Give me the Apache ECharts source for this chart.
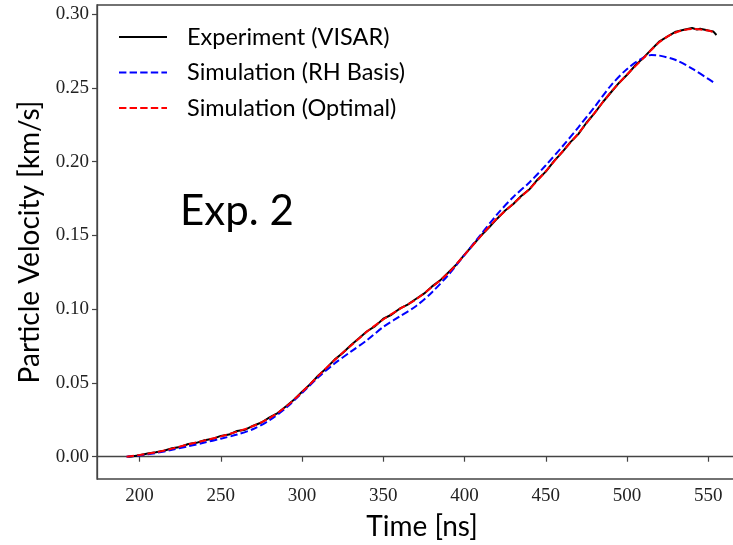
<!DOCTYPE html>
<html>
<head>
<meta charset="utf-8">
<script src="https://cdn.jsdelivr.net/npm/echarts@6/dist/echarts.min.js"></script>
<style>
  html, body { margin: 0; padding: 0; background: #fff; }
  #chart { width: 733px; height: 545px; }
</style>
</head>
<body>
<div id="chart"></div>
<script>
// Particle velocity history, experiment 2: VISAR record vs. two simulations
const seriesNames = ['Experiment (VISAR)', 'Simulation (RH Basis)', 'Simulation (Optimal)'];

// VISAR measurement [time ns, velocity km/s]
const experimentTime = [193,195,200,205,210,215,220,225,230,235,240,245,250,255,260,265,270,275,280,285,290,295,300,305,310,315,320,325,330,335,340,345,350,355,360,365,370,375,380,385,390,395,400,405,410,415,420,425,430,435,440,445,450,455,460,465,470,475,480,485,490,495,500,505,510,515,520,525,530,535,540,543,545,550,553,555];
const experimentVel = [0.0000,0.0002,0.0010,0.0022,0.0031,0.0041,0.0057,0.0066,0.0086,0.0094,0.0112,0.0121,0.0141,0.0150,0.0174,0.0183,0.0210,0.0232,0.0266,0.0296,0.0340,0.0386,0.0440,0.0491,0.0550,0.0600,0.0658,0.0703,0.0755,0.0802,0.0850,0.0885,0.0935,0.0962,0.1003,0.1031,0.1069,0.1105,0.1154,0.1195,0.1248,0.1303,0.1370,0.1433,0.1497,0.1553,0.1613,0.1668,0.1712,0.1768,0.1813,0.1879,0.1932,0.2003,0.2062,0.2130,0.2186,0.2263,0.2328,0.2402,0.2468,0.2533,0.2588,0.2651,0.2703,0.2760,0.2815,0.2848,0.2880,0.2893,0.2905,0.2895,0.2900,0.2888,0.2882,0.2858];

// Simulation with Rankine-Hugoniot basis
const rhTime = [192,200,210,220,230,240,250,260,270,280,290,300,310,320,330,340,350,360,370,380,390,400,410,420,430,440,450,460,470,480,490,500,510,515,520,530,540,550,553];
const rhVel = [0.0000,0.0008,0.0025,0.0047,0.0071,0.0096,0.0122,0.0150,0.0188,0.0248,0.0330,0.0432,0.0538,0.0632,0.0712,0.0790,0.0880,0.0950,0.1020,0.1115,0.1232,0.1368,0.1505,0.1642,0.1760,0.1860,0.1975,0.2100,0.2232,0.2370,0.2515,0.2628,0.2705,0.2722,0.2718,0.2688,0.2630,0.2560,0.2538];

// Simulation with optimised parameters
const optTime = [192,200,210,220,230,240,250,260,270,280,290,300,310,320,330,340,350,360,370,380,390,400,410,420,430,440,450,460,470,480,490,500,510,520,530,540,550,553];
const optVel = [0.0000,0.0012,0.0030,0.0055,0.0083,0.0110,0.0138,0.0170,0.0208,0.0262,0.0338,0.0438,0.0548,0.0655,0.0752,0.0848,0.0930,0.1000,0.1065,0.1150,0.1245,0.1368,0.1495,0.1615,0.1715,0.1815,0.1935,0.2065,0.2190,0.2330,0.2470,0.2590,0.2700,0.2810,0.2875,0.2898,0.2888,0.2878];

const xTicks = [200, 250, 300, 350, 400, 450, 500, 550];
const yTicks = [0.00, 0.05, 0.10, 0.15, 0.20, 0.25, 0.30];

const pairs = (xs, ys) => xs.map((x, i) => [x, ys[i]]);

const tickFont = { fontFamily: 'Liberation Serif', fontSize: 19, color: '#222' };
const sansFont = 'Lato';
const dash = [7.4, 3.2];

const chart = echarts.init(document.getElementById('chart'), null, { renderer: 'canvas' });
chart.setOption({
  animation: false,
  backgroundColor: '#fff',
  // plot box runs past the right edge of the canvas, so its right side is not seen
  grid: {
    left: 97, top: 5, width: 650, bottom: 66,
    outerBoundsMode: 'none', containLabel: false,
    show: true, borderColor: '#444', borderWidth: 1.3, backgroundColor: 'transparent'
  },
  xAxis: {
    type: 'value', min: 173.8, max: 573.8,
    name: 'Time [ns]', nameLocation: 'middle', nameGap: 34,
    nameTextStyle: { fontFamily: sansFont, fontSize: 28, color: '#000' },
    axisLine: { show: true, lineStyle: { color: '#444', width: 1.3 } },
    axisTick: { show: true, customValues: xTicks, length: 5, lineStyle: { color: '#444', width: 1.2 } },
    axisLabel: { customValues: xTicks, margin: 8, ...tickFont },
    splitLine: { show: false }
  },
  yAxis: {
    type: 'value', min: -0.0151, max: 0.3061,
    name: 'Particle Velocity [km/s]', nameLocation: 'middle', nameGap: 53, nameRotate: 90,
    nameTextStyle: { fontFamily: sansFont, fontSize: 28, color: '#000' },
    axisLine: { show: true, lineStyle: { color: '#444', width: 1.3 } },
    axisTick: { show: true, customValues: yTicks, length: 5, lineStyle: { color: '#444', width: 1.2 } },
    axisLabel: { customValues: yTicks, margin: 8, formatter: v => v.toFixed(2), ...tickFont },
    splitLine: { show: false }
  },
  legend: {
    orient: 'vertical', left: 118, top: 25, padding: 0,
    itemWidth: 48, itemHeight: 14, itemGap: 11.5,
    itemStyle: { opacity: 0 },
    textStyle: { fontFamily: sansFont, fontSize: 23.5, color: '#000', lineHeight: 24, padding: [0, 0, 0, 15] },
    data: seriesNames
  },
  graphic: [{
    type: 'text', left: 180, top: 190,
    style: { text: 'Exp. 2', fontFamily: sansFont, fontSize: 42, fill: '#000' }
  }],
  series: [
    {
      name: seriesNames[0], type: 'line', data: pairs(experimentTime, experimentVel),
      symbol: 'none', lineStyle: { color: '#000', width: 2 }, itemStyle: { color: '#000' }, z: 2
    },
    {
      name: seriesNames[1], type: 'line', data: pairs(rhTime, rhVel), smooth: 0.3,
      symbol: 'none', lineStyle: { color: '#0000ff', width: 2, type: dash }, itemStyle: { color: '#0000ff' }, z: 3
    },
    {
      name: seriesNames[2], type: 'line', data: pairs(optTime, optVel), smooth: 0.3,
      symbol: 'none', lineStyle: { color: '#ff0000', width: 2, type: dash }, itemStyle: { color: '#ff0000' }, z: 4
    }
  ]
});
</script>
</body>
</html>
